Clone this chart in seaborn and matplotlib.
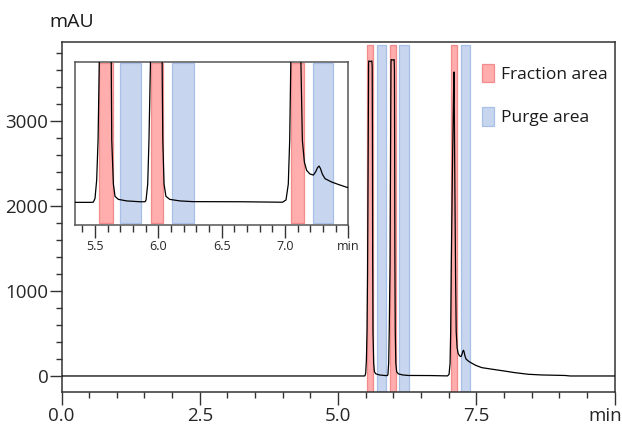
import matplotlib
matplotlib.use("Agg")
import matplotlib.pyplot as plt
from matplotlib.patches import Patch
from matplotlib.ticker import FixedLocator, MultipleLocator
from matplotlib.transforms import ScaledTranslation
import pandas as pd
import seaborn as sns

# Chromatogram trace (retention time in min, absorbance in mAU)
time_min = [
    0.0, 5.47, 5.487, 5.50, 5.513, 5.524, 5.534, 5.545, 5.553, 5.558, 5.59,
    5.612, 5.618, 5.622, 5.626, 5.632, 5.645, 5.658, 5.684, 5.75, 5.855,
    5.895, 5.903, 5.916, 5.926, 5.94, 5.95, 5.958, 5.962, 5.99, 6.015, 6.020,
    6.024, 6.028, 6.035, 6.045, 6.06, 6.09, 6.17, 6.27, 6.66, 6.98, 7.008,
    7.026, 7.037, 7.047, 7.07, 7.092, 7.098, 7.112, 7.126, 7.137, 7.153,
    7.171, 7.197, 7.224, 7.242, 7.258, 7.269, 7.279, 7.295, 7.316, 7.368,
    7.42, 7.49, 7.6, 7.72, 7.96, 8.2, 8.44, 8.68, 9.1, 9.2, 10.0,
]
absorbance_mau = [
    0, 0, 2, 33, 186, 519, 1200, 2600, 3690, 3706, 3698,
    3706, 3640, 2900, 1500, 519, 152, 50, 25, 12, 5,
    5, 20, 152, 519, 1300, 2650, 3700, 3722, 3716, 3722, 3600,
    2700, 1400, 519, 152, 50, 25, 12, 6, 5, 1, 20,
    152, 519, 1250, 2500, 3450, 3576, 2300, 1150, 519, 336,
    267, 237, 228, 255, 292, 303, 285, 236, 198, 170,
    150, 125, 98, 86, 63, 39, 20, 12, 6, 0, 0,
]

# Collection windows (start, end) in min
fraction_windows = [(5.53, 5.64), (5.94, 6.04), (7.05, 7.15)]
purge_windows = [(5.70, 5.86), (6.11, 6.28), (7.22, 7.38)]

main_xticks = [0.0, 2.5, 5.0, 7.5, 10.0]
main_xlabels = ["0.0", "2.5", "5.0", "7.5", "min"]
main_yticks = [0, 1000, 2000, 3000]
main_ylabels = ["0", "1000", "2000", "3000"]
inset_xticks = [5.5, 6.0, 6.5, 7.0, 7.5]
inset_xlabels = ["5.5", "6.0", "6.5", "7.0", "min"]
legend_labels = ["Fraction area", "Purge area"]
y_unit = "mAU"

FRACTION_FILL = "#ffadad"
FRACTION_EDGE = "#f28c8c"
PURGE_FILL = "#c7d5ee"
PURGE_EDGE = "#a8c0e8"
FRAME = "#333333"

sns.set_theme(style="ticks")
plt.rcParams["font.family"] = ["Open Sans", "DejaVu Sans"]
plt.rcParams["text.color"] = "#1a1a1a"

trace = pd.DataFrame({"time": time_min, "abs": absorbance_mau})

fig = plt.figure(figsize=(6.22, 4.26), dpi=100)
fig.patch.set_facecolor("white")


def style_frame(ax, color):
    for side in ("left", "right", "top", "bottom"):
        ax.spines[side].set_visible(True)
        ax.spines[side].set_color(color)
        ax.spines[side].set_linewidth(1.1)


def draw_windows(ax, ymin, ymax):
    for a, b in fraction_windows:
        ax.axvspan(a, b, ymin=ymin, ymax=ymax, facecolor=FRACTION_FILL,
                   edgecolor=FRACTION_EDGE, linewidth=0.9, zorder=1)
    for a, b in purge_windows:
        ax.axvspan(a, b, ymin=ymin, ymax=ymax, facecolor=PURGE_FILL,
                   edgecolor=PURGE_EDGE, linewidth=0.9, zorder=1)


# Full chromatogram
ax = fig.add_axes([0.0989, 0.0805, 0.8891, 0.8202])
ax.set_facecolor("white")
draw_windows(ax, 0.0, 0.992)
sns.lineplot(data=trace, x="time", y="abs", ax=ax, color="black",
             linewidth=0.9, estimator=None, sort=False, zorder=3)
ax.set_xlim(0, 10)
ax.set_ylim(-185, 3925)
ax.set_xlabel("")
ax.set_ylabel("")
ax.xaxis.set_major_locator(FixedLocator(main_xticks))
ax.set_xticklabels(main_xlabels)
ax.xaxis.set_minor_locator(MultipleLocator(0.5))
ax.yaxis.set_major_locator(FixedLocator(main_yticks))
ax.set_yticklabels(main_ylabels)
ax.yaxis.set_minor_locator(MultipleLocator(200))
ax.tick_params(which="major", direction="out", length=9, width=1.0,
               color=FRAME, labelsize=13.5)
ax.tick_params(which="minor", direction="out", length=4.5, width=1.0,
               color=FRAME)
ax.tick_params(axis="x", which="major", pad=2.0)
ax.tick_params(axis="y", which="major", pad=0.5)
style_frame(ax, FRAME)

# keep the unit label at the right end inside the canvas
unit_tick = ax.get_xticklabels()[-1]
unit_tick.set_horizontalalignment("right")
unit_tick.set_transform(unit_tick.get_transform()
                        + ScaledTranslation(7 / 100, 0, fig.dpi_scale_trans))

fig.text(72 / 622, 1 - 27 / 426, y_unit, ha="center", va="baseline",
         fontsize=14)

handles = [
    Patch(facecolor=FRACTION_FILL, edgecolor=FRACTION_EDGE, linewidth=0.9),
    Patch(facecolor=PURGE_FILL, edgecolor=PURGE_EDGE, linewidth=0.9),
]
ax.legend(handles, legend_labels, loc="upper left",
          bbox_to_anchor=(481.7 / 622, 1 - 64 / 426),
          bbox_transform=fig.transFigure, frameon=False, fontsize=12.5,
          borderpad=0, borderaxespad=0, handlelength=0.69,
          handleheight=1.25, handletextpad=0.45, labelspacing=1.4)

# Zoomed view of the collection region
inset = fig.add_axes([0.1206, 0.473, 0.4394, 0.3808])
inset.set_facecolor("white")
draw_windows(inset, 0.011, 0.994)
sns.lineplot(data=trace, x="time", y="abs", ax=inset, color="black",
             linewidth=0.9, estimator=None, sort=False, zorder=3)
inset.set_xlim(5.342, 7.5)
inset.set_ylim(-185, 1170)
inset.set_xlabel("")
inset.set_ylabel("")
inset.xaxis.set_major_locator(FixedLocator(inset_xticks))
inset.set_xticklabels(inset_xlabels)
inset.xaxis.set_minor_locator(MultipleLocator(0.1))
inset.yaxis.set_major_locator(FixedLocator([]))
inset.tick_params(which="major", direction="out", length=9.5, width=1.0,
                  color=FRAME, labelsize=9, pad=1.5)
inset.tick_params(which="minor", direction="out", length=5, width=1.0,
                  color=FRAME)
style_frame(inset, "#555555")

fig.savefig("out.png", dpi=100, facecolor="white")
